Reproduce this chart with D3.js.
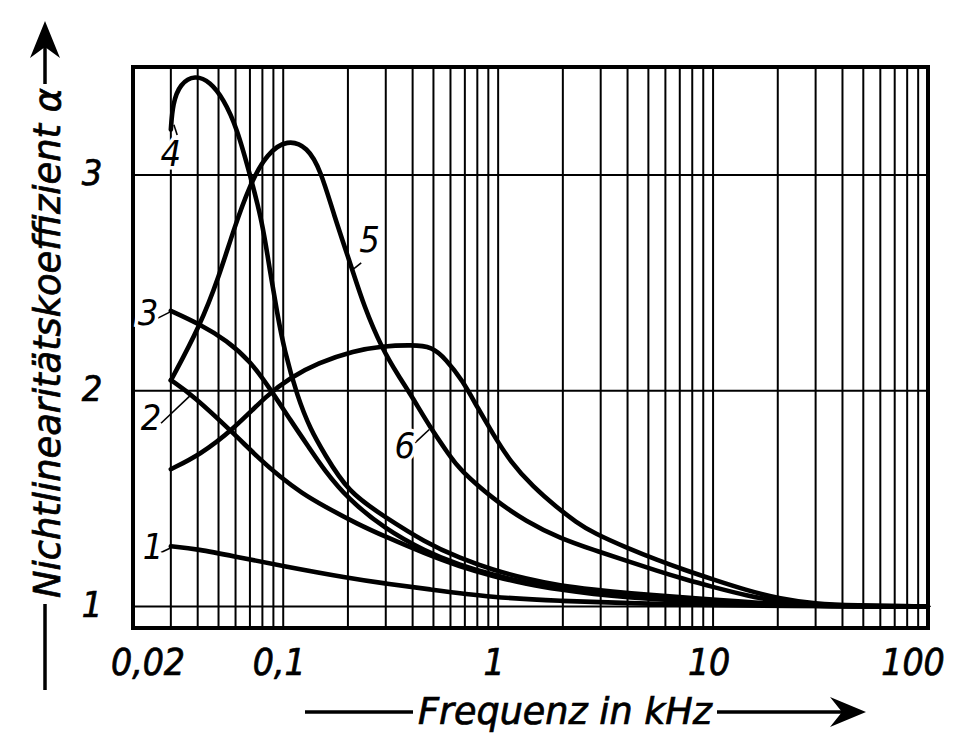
<!DOCTYPE html>
<html>
<head>
<meta charset="utf-8">
<script src="https://cdn.jsdelivr.net/npm/d3@7"></script>
<style>
  body { margin: 0; background: #fff; }
  text { font-family: "DejaVu Sans Condensed", "DejaVu Sans", sans-serif; font-style: italic; font-stretch: condensed; fill: #000; }
  .bold { stroke: #000; stroke-width: 0.7; }
</style>
</head>
<body>
<svg id="chart" width="963" height="739"></svg>
<script>
// ---------- data (frequency in kHz, nonlinearity coefficient alpha) ----------
const xTickValues = [0.02, 0.1, 1, 10, 100];
const xTickLabels = ["0,02", "0,1", "1", "10", "100"];
const yTickValues = [1, 2, 3];
const yTickLabels = ["1", "2", "3"];

const curve1 = [[0.03,1.279],[0.0402,1.265],[0.0585,1.233],[0.1,1.187],[0.2,1.132],[0.303,1.105],[0.457,1.082],[0.947,1.041],[1.95,1.025],[4,1.015],[10,1.006],[20,1.001],[100,1.0]];
const curve2 = [[0.03,2.049],[0.0381,1.977],[0.0585,1.804],[0.0781,1.68],[0.0969,1.60],[0.122,1.525],[0.1545,1.465],[0.2234,1.38],[0.296,1.325],[0.457,1.245],[0.662,1.185],[0.947,1.14],[1.352,1.103],[1.95,1.077],[2.78,1.057],[4,1.042],[7.32,1.025],[10,1.018],[20.5,1.005],[44,1.0],[100,1.0]];
const curve3 = [[0.03,2.37],[0.041,2.308],[0.0548,2.232],[0.0702,2.137],[0.0869,2.009],[0.108,1.863],[0.134,1.726],[0.1545,1.635],[0.2,1.498],[0.296,1.361],[0.457,1.256],[0.662,1.192],[0.947,1.146],[1.352,1.11],[1.95,1.082],[2.78,1.064],[4,1.05],[7.32,1.032],[10,1.023],[20.5,1.005],[44,1.0],[100,1.0]];
const curve4 = [[0.03,3.21],[0.0306,3.33],[0.0331,3.423],[0.0389,3.463],[0.0457,3.431],[0.0527,3.352],[0.0609,3.218],[0.0702,2.997],[0.080,2.78],[0.0869,2.55],[0.0937,2.36],[0.101,2.19],[0.1165,1.97],[0.134,1.82],[0.1545,1.712],[0.2,1.53],[0.296,1.416],[0.457,1.297],[0.662,1.224],[0.947,1.169],[1.352,1.128],[1.95,1.096],[2.78,1.078],[4,1.062],[7.32,1.041],[10,1.032],[20.5,1.009],[44,1.0],[100,1.0]];
const curve5 = [[0.03,2.047],[0.041,2.30],[0.0503,2.53],[0.0585,2.74],[0.0702,2.96],[0.0842,3.10],[0.1045,3.165],[0.1297,3.13],[0.1495,3.02],[0.172,2.815],[0.207,2.578],[0.238,2.389],[0.287,2.199],[0.345,2.066],[0.397,1.973],[0.478,1.836],[0.594,1.699],[0.662,1.635],[0.947,1.498],[1.352,1.393],[1.95,1.315],[2.78,1.262],[4,1.21],[5.5,1.165],[7.32,1.127],[10,1.09],[14.3,1.05],[20.5,1.022],[30,1.008],[44,1.002],[100,1.0]];
const curve6 = [[0.03,1.636],[0.041,1.703],[0.0585,1.82],[0.0851,1.985],[0.108,2.06],[0.1445,2.128],[0.214,2.185],[0.287,2.206],[0.397,2.212],[0.493,2.204],[0.569,2.147],[0.684,2.047],[0.805,1.918],[0.947,1.799],[1.138,1.671],[1.458,1.553],[1.867,1.461],[2.31,1.39],[2.78,1.34],[4,1.27],[5.5,1.215],[7.32,1.17],[10,1.125],[14.3,1.075],[20.5,1.035],[30,1.012],[44,1.004],[100,1.0]];

const curveLabels = ["1", "2", "3", "4", "5", "6"];
const labelAt     = [[0.0248,1.279],[0.0243,1.877],[0.0235,2.36],[0.0300,3.10],[0.252,2.70],[0.368,1.744]];
const leaderFrom  = [[0.0270,1.25],[0.0270,1.849],[0.0261,2.336],[0.0321,3.185],[0.2306,2.592],[0.410,1.758]];
const leaderTo    = [[0.0297,1.27],[0.0369,1.977],[0.0298,2.365],[0.0310,3.232],[0.207,2.555],[0.478,1.82]];

const xTitle = "Frequenz in kHz";
const yTitle = "Nichtlinearitätskoeffizient α";

// ---------- drawing ----------
const svg = d3.select("#chart");
const x = d3.scaleLog().domain([0.02, 100]).range([133, 928]);
const y = d3.scaleLinear().domain([0.9, 3.5]).range([628, 67]);

// vertical grid
const grid = svg.append("g").attr("stroke", "#000").attr("stroke-width", 2);
x.ticks().filter(t => t > 0.0201 && t < 99.9).forEach(t => {
  grid.append("line").attr("x1", x(t)).attr("x2", x(t)).attr("y1", y(0.9)).attr("y2", y(3.5));
});
// horizontal grid
yTickValues.forEach(v => {
  grid.append("line").attr("x1", x(0.02)).attr("x2", x(100)).attr("y1", y(v)).attr("y2", y(v));
});

// curves
const line = d3.line().x(d => x(d[0])).y(d => y(d[1])).curve(d3.curveBasis);
[curve1, curve2, curve3, curve4, curve5, curve6].forEach(c => {
  svg.append("path").attr("d", line(c)).attr("fill", "none").attr("stroke", "#000")
    .attr("stroke-width", 4.6).attr("stroke-linecap", "round").attr("stroke-linejoin", "round");
});

// frame
svg.append("rect").attr("x", x(0.02)).attr("y", y(3.5)).attr("width", x(100) - x(0.02)).attr("height", y(0.9) - y(3.5))
  .attr("fill", "none").attr("stroke", "#000").attr("stroke-width", 4);

// curve labels with leaders
curveLabels.forEach((t, i) => {
  svg.append("line").attr("x1", x(leaderFrom[i][0])).attr("y1", y(leaderFrom[i][1]))
    .attr("x2", x(leaderTo[i][0])).attr("y2", y(leaderTo[i][1]))
    .attr("stroke", "#000").attr("stroke-width", 1.6);
  svg.append("text").attr("x", x(labelAt[i][0])).attr("y", y(labelAt[i][1]))
    .attr("text-anchor", "middle").attr("dominant-baseline", "central")
    .attr("font-size", 36).attr("stroke", "#fff").attr("stroke-width", 7)
    .attr("paint-order", "stroke").text(t);
});

// x tick labels
xTickValues.forEach((v, i) => {
  const dx = i === 0 ? 15 : (i === xTickValues.length - 1 ? -15 : -4);
  svg.append("text").attr("class", "bold").attr("x", x(v) + dx).attr("y", 675).attr("text-anchor", "middle")
    .attr("font-size", 37).text(xTickLabels[i]);
});
// y tick labels
yTickValues.forEach((v, i) => {
  svg.append("text").attr("class", "bold").attr("x", 92).attr("y", y(v) - 2).attr("text-anchor", "middle")
    .attr("dominant-baseline", "central").attr("font-size", 36).text(yTickLabels[i]);
});

// x title with arrow
svg.append("text").attr("class", "bold").attr("x", 565).attr("y", 724).attr("text-anchor", "middle")
  .attr("font-size", 38).attr("textLength", 294).attr("lengthAdjust", "spacingAndGlyphs").text(xTitle);
svg.append("line").attr("x1", 305).attr("x2", 413).attr("y1", 712).attr("y2", 712).attr("stroke", "#000").attr("stroke-width", 3.5);
svg.append("line").attr("x1", 717).attr("x2", 845).attr("y1", 712).attr("y2", 712).attr("stroke", "#000").attr("stroke-width", 3.5);
svg.append("path").attr("d", "M866,712 L830,697 L842,712 L830,727 Z").attr("fill", "#000");

// y title with arrow
svg.append("text").attr("class", "bold").attr("transform", "translate(60,343) rotate(-90)").attr("text-anchor", "middle")
  .attr("font-size", 38).attr("textLength", 510).attr("lengthAdjust", "spacingAndGlyphs").text(yTitle);
svg.append("line").attr("x1", 45).attr("x2", 45).attr("y1", 604).attr("y2", 690).attr("stroke", "#000").attr("stroke-width", 3.5);
svg.append("line").attr("x1", 45).attr("x2", 45).attr("y1", 84).attr("y2", 45).attr("stroke", "#000").attr("stroke-width", 3.5);
svg.append("path").attr("d", "M45,21 L30,58 L45,47 L60,58 Z").attr("fill", "#000");
</script>
</body>
</html>
